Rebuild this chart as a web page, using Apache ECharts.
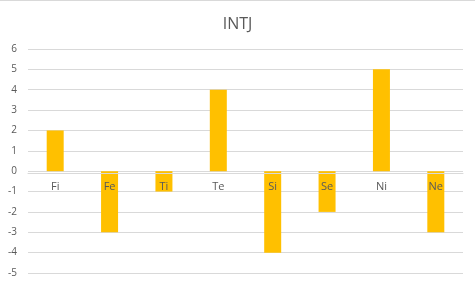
<!DOCTYPE html>
<html><head><meta charset="utf-8">
<script src="https://cdn.jsdelivr.net/npm/echarts@6/dist/echarts.min.js"></script>
<style>html,body{margin:0;padding:0;background:#fff}#c{width:475px;height:287px}</style>
</head><body><div id="c"></div>
<script>
const categories = ["Fi","Fe","Ti","Te","Si","Se","Ni","Ne"];
const values = [2,-3,-1,4,-4,-2,5,-3];
const titleText = "INTJ";
const chart = echarts.init(document.getElementById('c'), null, {renderer:'canvas'});
const option = {
  animation:false,
  graphic:[{type:'line',shape:{x1:0,y1:0.5,x2:475,y2:0.5},style:{stroke:'#d9d9d9',lineWidth:1}}],
  title:{text:titleText,left:'center',top:11,textStyle:{fontFamily:'Open Sans',fontSize:16,fontWeight:'normal',color:'#595959'}},
  grid:{left:28,right:12,top:49,bottom:14,containLabel:false},
  xAxis:{type:'category',data:categories,z:5,offset:0,
    axisLine:{show:true,onZero:false,lineStyle:{color:'#d9d9d9'}},axisTick:{show:false},
    axisLabel:{color:'#595959',fontFamily:'Open Sans',fontSize:11,margin:8}},
  yAxis:{type:'value',min:-5,max:6,interval:1,
    axisLine:{show:false},axisTick:{show:false},
    splitLine:{lineStyle:{color:'#d9d9d9'}},
    axisLabel:{color:'#595959',fontFamily:'Open Sans',fontSize:10,margin:11}},
  series:[{type:'bar',data:values,barWidth:17,itemStyle:{color:'#FFC000'}}]
};
chart.setOption(option);
const zeroY = chart.convertToPixel({yAxisIndex:0}, 0);
const minY = chart.convertToPixel({yAxisIndex:0}, option.yAxis.min);
chart.setOption({xAxis:{offset: zeroY - minY}});
</script></body></html>
